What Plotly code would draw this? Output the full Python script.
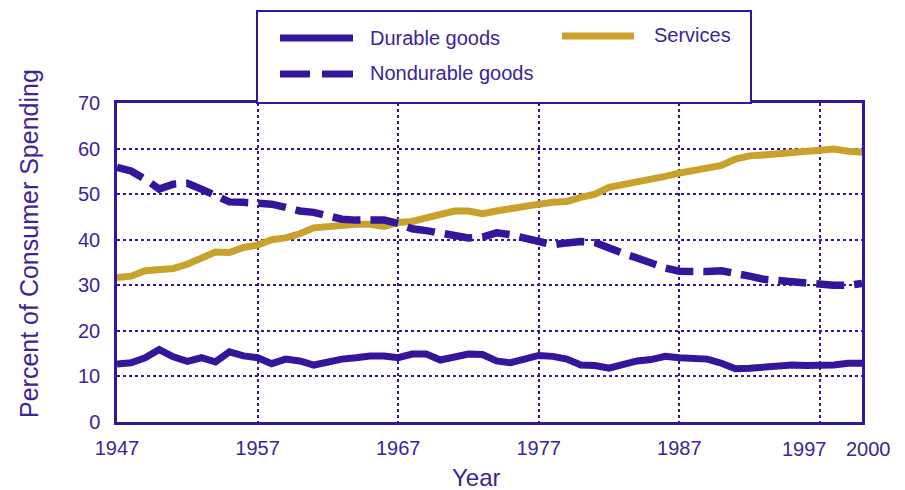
import plotly.graph_objects as go

years = list(range(1947, 2001))

durable = [12.7, 13.0, 14.1, 15.9, 14.3, 13.3, 14.1, 13.2, 15.4, 14.5,
           14.1, 12.8, 13.8, 13.4, 12.5, 13.2, 13.8, 14.1, 14.5, 14.5,
           14.1, 14.9, 14.9, 13.6, 14.3, 14.9, 14.8, 13.4, 13.0, 13.8,
           14.6, 14.4, 13.8, 12.5, 12.4, 11.8, 12.5, 13.4, 13.7, 14.4,
           14.1, 14.0, 13.8, 12.9, 11.7, 11.8, 12.1, 12.5, 12.5, 12.4,
           12.3, 12.5, 12.9, 12.9]

nondurable = [55.9, 55.1, 53.3, 51.1, 52.2, 52.4, 51.1, 49.8, 48.3, 48.2,
              48.0, 47.8, 47.1, 46.3, 46.0, 45.2, 44.5, 44.3, 44.3, 44.3,
              43.6, 42.4, 42.0, 41.4, 40.8, 40.4, 40.6, 41.5, 41.1, 40.5,
              39.5, 38.9, 39.3, 39.6, 39.4, 38.1, 37.0, 36.0, 34.8, 33.8,
              33.1, 32.9, 33.0, 33.2, 32.8, 32.0, 31.3, 31.0, 30.8, 30.6,
              30.4, 30.0, 30.0, 30.4]

services = [31.7, 32.0, 33.2, 33.4, 33.7, 34.6, 36.1, 37.3, 37.2, 38.3,
            38.8, 40.0, 40.4, 41.3, 42.6, 42.9, 43.3, 43.4, 43.4, 42.9,
            43.8, 44.0, 44.8, 45.7, 46.3, 46.3, 45.7, 46.3, 46.9, 47.2,
            47.8, 48.2, 48.4, 49.3, 50.0, 51.5, 52.1, 52.4, 53.1, 53.9,
            54.6, 55.2, 55.5, 56.3, 57.7, 58.4, 58.6, 58.8, 59.0, 59.2,
            59.6, 59.9, 59.4, 59.2]

x_tickvals = [1947, 1957, 1967, 1977, 1987, 1997, 2000]
x_ticktext = ["1947", "1957", "1967", "1977", "1987", "", ""]
x_end_labels = [(1997, "1997", -15), (2000, "2000", 6)]
y_tickvals = [0, 10, 20, 30, 40, 50, 60, 70]

PURPLE = "#33169a"
TEXT = "#3a2599"
GOLD = "#c9a22e"
FONT = "Liberation Sans, Arial, sans-serif"

fig = go.Figure()
fig.add_trace(go.Scatter(x=years, y=services, mode="lines", name="Services",
                         line=dict(color=GOLD, width=7)))
fig.add_trace(go.Scatter(x=years, y=nondurable, mode="lines", name="Nondurable goods",
                         line=dict(color=PURPLE, width=7.5, dash="28px,10px")))
fig.add_trace(go.Scatter(x=years, y=durable, mode="lines", name="Durable goods",
                         line=dict(color=PURPLE, width=7)))

OFF = 8  # page body margin
W, H = 897, 482
L, R, T, B = 109, 43, 95, 68
pw, ph = W - L - R, H - T - B

def px(xs):
    return (xs - OFF - L) / pw

def py(ys):
    return (H - B - (ys - OFF)) / ph

shapes = [
    dict(type="rect", xref="paper", yref="paper", x0=px(257), x1=px(751),
         y0=py(103), y1=py(11), line=dict(color=PURPLE, width=2), fillcolor="white",
         layer="above"),
    dict(type="line", xref="paper", yref="paper", x0=px(280), x1=px(353),
         y0=py(38), y1=py(38), line=dict(color=PURPLE, width=7)),
    dict(type="line", xref="paper", yref="paper", x0=px(280), x1=px(310),
         y0=py(74), y1=py(74), line=dict(color=PURPLE, width=7)),
    dict(type="line", xref="paper", yref="paper", x0=px(322), x1=px(353),
         y0=py(74), y1=py(74), line=dict(color=PURPLE, width=7)),
    dict(type="line", xref="paper", yref="paper", x0=px(562), x1=px(634),
         y0=py(36), y1=py(36), line=dict(color=GOLD, width=7)),
]

annotations = [
    dict(text="Durable goods", xref="paper", yref="paper", x=px(368), y=py(38),
         xanchor="left", yanchor="middle", showarrow=False,
         font=dict(family=FONT, size=20, color=TEXT)),
    dict(text="Nondurable goods", xref="paper", yref="paper", x=px(368), y=py(73),
         xanchor="left", yanchor="middle", showarrow=False,
         font=dict(family=FONT, size=20, color=TEXT)),
    dict(text="Services", xref="paper", yref="paper", x=px(652), y=py(35),
         xanchor="left", yanchor="middle", showarrow=False,
         font=dict(family=FONT, size=20, color=TEXT)),
    dict(text="Year", xref="paper", yref="paper", x=px(476), y=py(477),
         xanchor="center", yanchor="middle", showarrow=False,
         font=dict(family=FONT, size=24, color=TEXT)),
    dict(text="Percent of Consumer Spending", xref="paper", yref="paper",
         x=px(29), y=py(244), textangle=-90,
         xanchor="center", yanchor="middle", showarrow=False,
         font=dict(family=FONT, size=25, color=TEXT)),
]
for xv, label, shift in x_end_labels:
    annotations.append(dict(text=label, xref="x", yref="paper", x=xv, y=py(449),
                            xshift=shift, xanchor="center", yanchor="middle",
                            showarrow=False,
                            font=dict(family=FONT, size=20, color=TEXT)))

fig.update_layout(
    width=W, height=H,
    margin=dict(l=L, r=R, t=T, b=B, pad=0, autoexpand=False),
    paper_bgcolor="white", plot_bgcolor="white",
    showlegend=False,
    font=dict(family=FONT, color=TEXT, size=20),
    shapes=shapes, annotations=annotations,
)
fig.update_xaxes(
    range=[1947, 2000], tickvals=x_tickvals, ticktext=x_ticktext, tickangle=0,
    showgrid=True, gridcolor=PURPLE, griddash="dot", gridwidth=1.5,
    showline=True, linecolor=PURPLE, linewidth=2.5, mirror=True,
    ticks="", zeroline=False, automargin=False, ticklabelstandoff=6,
    tickfont=dict(family=FONT, size=20, color=TEXT),
)
fig.update_yaxes(
    range=[0, 70], tickvals=y_tickvals,
    showgrid=True, gridcolor=PURPLE, griddash="dot", gridwidth=1.5,
    showline=True, linecolor=PURPLE, linewidth=2.5, mirror=True,
    ticks="", zeroline=False, automargin=False, ticklabelstandoff=10,
    tickfont=dict(family=FONT, size=20, color=TEXT),
)

fig.write_html("out.html")
